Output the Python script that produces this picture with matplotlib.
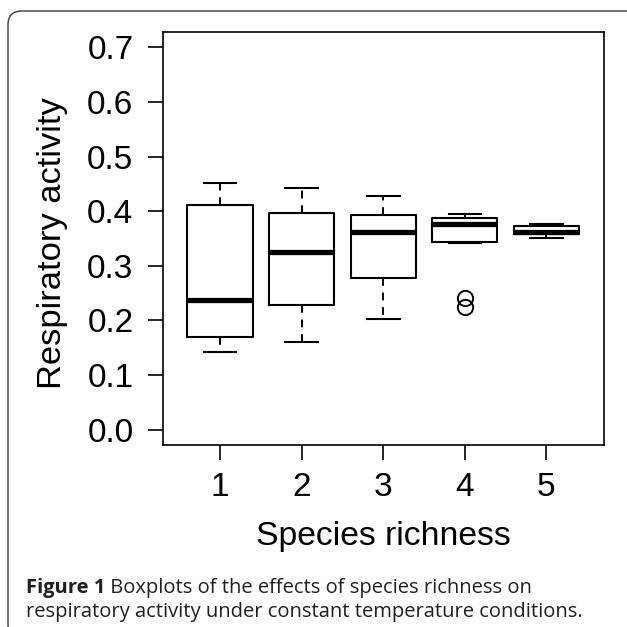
import matplotlib
matplotlib.use('Agg')
import matplotlib.pyplot as plt
from matplotlib.patches import FancyBboxPatch

# values
richness = [1, 2, 3, 4, 5]
whisker_low = [0.143, 0.161, 0.202, 0.341, 0.351]
q1 = [0.170, 0.228, 0.278, 0.344, 0.359]
medians = [0.237, 0.326, 0.362, 0.377, 0.362]
q3 = [0.411, 0.396, 0.393, 0.387, 0.373]
whisker_high = [0.451, 0.443, 0.427, 0.395, 0.377]
outliers = [[], [], [], [0.242, 0.225], []]
y_ticks = [0.0, 0.1, 0.2, 0.3, 0.4, 0.5, 0.6, 0.7]

caption_bold = "Figure 1"
caption_line1 = " Boxplots of the effects of species richness on"
caption_line2 = "respiratory activity under constant temperature conditions."

W = 627.0
fig = plt.figure(figsize=(6.27, 6.27), dpi=100)
fig.patch.set_facecolor('white')

# rounded panel border
border = FancyBboxPatch((8 / W, -12 / W), 640 / W, (W - 11 + 12) / W,
                        boxstyle="round,pad=0,rounding_size=0.022",
                        transform=fig.transFigure, fill=False,
                        edgecolor='#3a3a3a', linewidth=1.0)
fig.patches.append(border)

ax = fig.add_axes([163 / W, 1 - 445 / W, (603.5 - 163) / W, (445 - 32) / W])

stats = []
for i in range(len(richness)):
    stats.append(dict(med=medians[i], q1=q1[i], q3=q3[i],
                      whislo=whisker_low[i], whishi=whisker_high[i],
                      fliers=outliers[i], label=str(richness[i])))

ax.bxp(stats, positions=richness, widths=0.8, capwidths=0.4,
       boxprops=dict(color='black', linewidth=1.5),
       medianprops=dict(color='black', linewidth=3.8, solid_capstyle='butt'),
       whiskerprops=dict(color='black', linewidth=1.4, linestyle=(0, (4, 3.5))),
       capprops=dict(color='black', linewidth=1.5),
       flierprops=dict(marker='o', markerfacecolor='none', markeredgecolor='black',
                       markersize=11, markeredgewidth=1.4))

ax.set_xlim(0.3, 5.7)
ax.set_ylim(-0.028, 0.728)
ax.set_yticks(y_ticks)
ax.set_yticklabels(["%.1f" % t for t in y_ticks])
ax.set_xticks(richness)
ax.set_xticklabels([str(r) for r in richness])

for s in ax.spines.values():
    s.set_linewidth(1.2)
ax.tick_params(axis='both', length=10.8, width=1.2, labelsize=24, direction='out')
ax.tick_params(axis='y', pad=10.5)
ax.tick_params(axis='x', pad=9.0)
for lab in ax.get_xticklabels() + ax.get_yticklabels():
    lab.set_family('Liberation Sans')

fig.text(383 / W, 1 - 545 / W, "Species richness", ha='center', va='baseline',
         fontsize=24.3, family='Liberation Sans')
fig.text(52 / W, 1 - 243 / W, "Respiratory activity", ha='center', va='center',
         rotation=90, fontsize=24.8, family='Liberation Sans')

# caption with bold lead-in
cap_style = dict(fontsize=14.5, family='Open Sans', color='#231f20')
t1 = fig.text(26 / W, 1 - 593 / W, caption_bold, ha='left', va='baseline',
              fontweight='bold', **cap_style)
fig.canvas.draw()
bb = t1.get_window_extent()
fig.text(bb.x1 / W, 1 - 593 / W, caption_line1, ha='left', va='baseline', **cap_style)
fig.text(26 / W, 1 - 617 / W, caption_line2, ha='left', va='baseline', **cap_style)

fig.savefig('out.png', dpi=100)
